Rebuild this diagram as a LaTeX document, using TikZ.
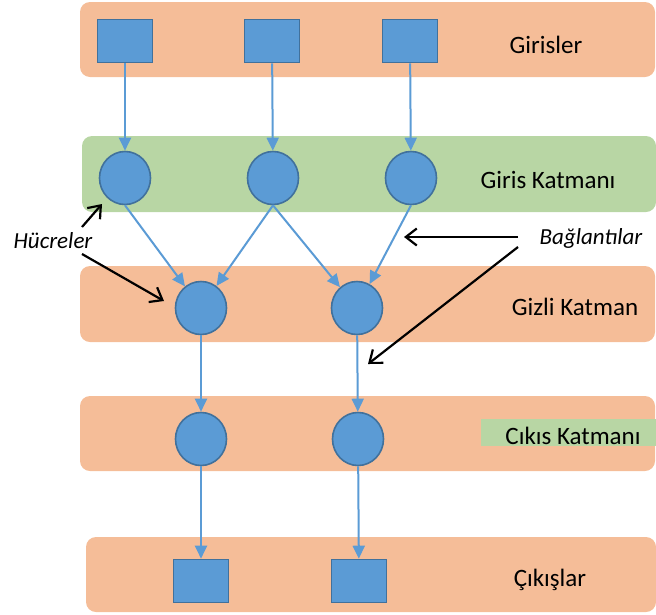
\documentclass[tikz,border=0pt]{standalone}
\usepackage{fontspec}
\setmainfont{Carlito}
\usetikzlibrary{arrows.meta,shapes.geometric}
\definecolor{bandorange}{HTML}{F5BD98}
\definecolor{bandgreen}{HTML}{B8D6A4}
\definecolor{cellblue}{HTML}{5B9BD5}
\definecolor{cellborder}{HTML}{41719C}
\begin{document}
\begin{tikzpicture}[x=1pt,y=-1pt,
  band/.style={fill=bandorange, rounded corners=10pt},
  gband/.style={fill=bandgreen, rounded corners=10pt},
  cell/.style={ellipse, fill=cellblue, draw=cellborder, line width=1.6pt, minimum width=51pt, minimum height=53pt, inner sep=0pt},
  io/.style={rectangle, fill=cellblue, draw=cellborder, line width=1.6pt, minimum width=55pt, minimum height=43pt, inner sep=0pt},
  lab/.style={font=\fontsize{25}{30}\selectfont, inner sep=0pt},
  note/.style={font=\fontsize{23}{28}\selectfont\itshape, inner sep=0pt},
  link/.style={draw=cellblue, line width=2pt, -{Triangle[length=13pt,width=12pt]}},
  pointer/.style={draw=black, line width=2.2pt, -{Straight Barb[length=11pt,width=17pt]}}]
\useasboundingbox (0,0) rectangle (656,614);
% bands
\path[band] (80,2) rectangle (655,77);
\path[gband] (82,136) rectangle (656,212);
\path[band] (80,266) rectangle (655,342);
\path[band] (80,396) rectangle (655,471);
\path[band] (86,537) rectangle (656,612);
\fill[bandgreen] (481,419) rectangle (656,446);
% labels
\node[lab] (lin) at (546,45) {Girisler};
\node[lab] (lgk) at (548,180) {Giris Katmanı};
\node[lab] (lhk) at (575,307) {Gizli Katman};
\node[lab] (lck) at (573,436) {Cıkıs Katmanı};
\node[lab] (lout) at (550,580) {Çıkışlar};
\node[note] (hue) at (53,241) {Hücreler};
\node[note] (bag) at (591,238) {Bağlantılar};
% inputs
\node[io] (i1) at (125,41) {};
\node[io] (i2) at (272,41) {};
\node[io] (i3) at (410,41) {};
% input layer
\node[cell] (c1) at (125,178) {};
\node[cell] (c2) at (273,178) {};
\node[cell] (c3) at (411,178) {};
% hidden
\node[cell] (h1) at (201,308) {};
\node[cell] (h2) at (357,308) {};
% output layer
\node[cell] (o1) at (201,439) {};
\node[cell] (o2) at (358,439) {};
% outputs
\node[io] (y1) at (201,581) {};
\node[io] (y2) at (359,581) {};
% blue links
\draw[link] (i1) -- (c1);
\draw[link] (i2) -- (c2);
\draw[link] (i3) -- (c3);
\draw[link] (c1.south) -- (h1);
\draw[link] (c2.south) -- (h1);
\draw[link] (c2.south) -- (h2);
\draw[link] (c3.south) -- (h2);
\draw[link] (h1) -- (o1);
\draw[link] (h2) -- (o2);
\draw[link] (o1) -- (y1);
\draw[link] (o2) -- (y2);
% pointers
\coordinate (hs1) at (82,227);
\coordinate (ht1) at (102,204);
\coordinate (hs2) at (82,254);
\coordinate (ht2) at (164,301);
\coordinate (bs1) at (518,237);
\coordinate (bt1) at (404,237);
\coordinate (bs2) at (518,247);
\coordinate (bt2) at (368,364);
\draw[pointer] (hs1) -- (ht1);
\draw[pointer] (hs2) -- (ht2);
\draw[pointer] (bs1) -- (bt1);
\draw[pointer] (bs2) -- (bt2);
\end{tikzpicture}
\end{document}
